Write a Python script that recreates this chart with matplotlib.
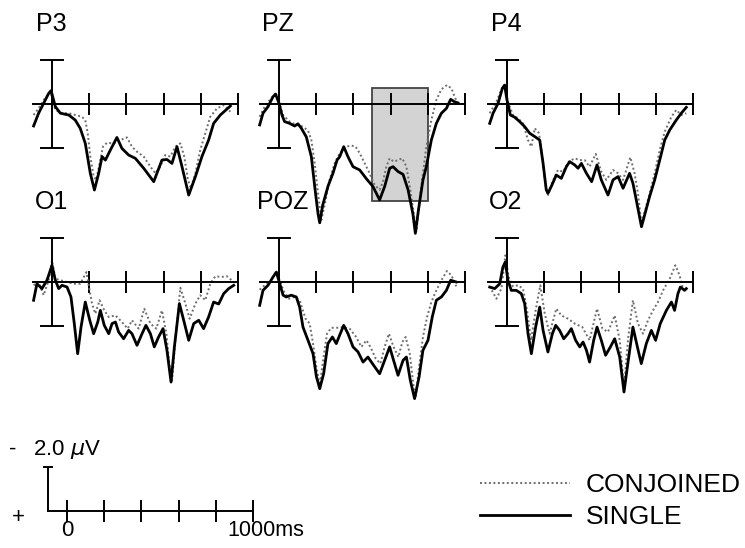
import matplotlib.pyplot as plt
from matplotlib.patches import Rectangle

plt.rcParams.update({
    "font.family": ["Liberation Sans", "DejaVu Sans"],
    "mathtext.fontset": "dejavusans",
})

# ---- data: grand-average ERPs (uV, positive plotted downward) ----
p3_single_t = [-99, -72, -45, -18, -5, 18, 45, 90, 125, 152, 179, 206, 228, 251, 269, 287, 314, 349,
               376, 412, 448, 493, 547, 591, 618, 645, 672, 699, 735, 771, 806, 842, 869, 905, 959]
p3_single_uv = [1.0, 0.42, -0.03, -0.48, -0.61, 0.12, 0.42, 0.5, 0.73, 1.11, 1.79, 3.15, 3.91, 3.15, 2.39,
                2.55, 2.09, 1.52, 2.02, 2.32, 2.47, 2.92, 3.53, 2.55, 2.52, 2.7, 1.94, 2.85, 4.14, 3.3,
                2.39, 1.64, 0.88, 0.5, 0.09]
p3_conj_t = [-99, -72, -45, -9, 18, 54, 90, 125, 161, 179, 192, 206, 224, 238, 256, 274, 296, 332, 367,
             403, 430, 457, 493, 529, 556, 582, 609, 636, 663, 690, 711, 731, 747, 771, 797, 824, 851,
             887, 923, 959]
p3_conj_uv = [0.5, 0.2, -0.18, -0.56, 0.27, 0.42, 0.42, 0.5, 0.58, 0.73, 1.33, 2.39, 3.3, 3.45, 2.7,
              1.94, 1.76, 1.79, 1.64, 1.52, 1.94, 2.17, 2.39, 2.85, 3.15, 2.85, 2.32, 2.39, 1.94, 1.79,
              2.39, 3.45, 3.83, 3.15, 2.09, 1.33, 0.58, 0.2, 0.05, 0.35]

pz_single_t = [-104, -86, -59, -32, -18, 0, 16, 30, 57, 84, 102, 120, 147, 174, 192, 210, 219, 235, 263,
               290, 312, 326, 348, 371, 398, 434, 470, 505, 541, 568, 595, 613, 640, 667, 694, 720, 733,
               750, 774, 792, 819, 846, 873, 900, 923, 944, 962]
pz_single_uv = [0.95, 0.42, 0.12, -0.33, -0.45, -0.03, 0.5, 0.8, 0.88, 1.0, 0.9, 1.1, 1.5, 2.4, 3.75,
                5.0, 5.4, 4.6, 3.75, 3.15, 2.55, 2.4, 1.94, 2.4, 2.85, 3.0, 3.4, 3.75, 4.36, 3.75, 2.92,
                2.85, 3.07, 3.2, 3.9, 5.0, 5.88, 4.8, 3.45, 2.85, 1.64, 0.88, 0.42, 0.2, -0.21, -0.1,
                -0.05]
pz_conj_t = [-104, -77, -50, -23, 0, 22, 57, 93, 129, 156, 174, 192, 210, 228, 251, 272, 299, 326, 362,
             389, 412, 434, 461, 487, 514, 541, 559, 577, 595, 616, 640, 663, 685, 706, 724, 739, 756,
             774, 792, 819, 846, 873, 903, 927, 944, 962]
pz_conj_uv = [0.58, 0.12, -0.18, -0.45, -0.1, 0.5, 0.8, 0.95, 1.03, 1.21, 1.64, 2.7, 4.06, 5.27, 4.36,
              3.45, 2.7, 2.24, 1.94, 1.89, 1.94, 2.24, 2.7, 3.15, 3.68, 3.9, 3.53, 2.85, 2.47, 2.62,
              2.55, 2.47, 2.85, 3.9, 4.97, 5.8, 4.36, 3.15, 1.94, 0.73, -0.18, -0.67, -0.86, -0.71,
              -0.33, -0.03]

p4_single_t = [-93, -75, -48, -25, -13, 0, 18, 41, 68, 95, 122, 149, 176, 194, 211, 220, 238, 265, 292,
               319, 337, 364, 382, 400, 427, 455, 484, 507, 543, 570, 597, 624, 659, 677, 695, 723, 767,
               794, 821, 848, 875, 910, 937, 964]
p4_single_uv = [0.88, 0.42, -0.03, -0.71, -0.86, -0.18, 0.5, 0.6, 0.8, 1.03, 1.33, 1.48, 1.64, 2.7, 3.9,
                4.06, 3.75, 3.23, 3.38, 2.85, 2.62, 2.77, 2.92, 2.7, 3.15, 3.53, 2.77, 3.45, 4.14, 3.45,
                3.3, 3.83, 3.15, 3.6, 4.36, 5.58, 4.2, 3.45, 2.55, 1.64, 1.18, 0.73, 0.42, 0.15]
p4_conj_t = [-93, -57, -25, -9, 5, 32, 59, 86, 113, 131, 149, 172, 190, 208, 222, 244, 274, 301, 333,
             364, 391, 418, 444, 477, 507, 534, 570, 597, 624, 663, 686, 704, 723, 767, 794, 821, 848,
             884, 910, 937, 964]
p4_conj_uv = [0.42, -0.1, -0.76, -0.86, -0.1, 0.5, 0.65, 0.88, 1.64, 1.94, 1.1, 1.33, 2.39, 3.76, 4.14,
              3.53, 3.0, 3.08, 2.62, 2.47, 2.55, 2.55, 2.85, 2.27, 3.08, 3.45, 3.0, 3.15, 3.45, 2.42,
              3.15, 4.06, 5.45, 4.06, 3.15, 2.09, 1.26, 0.58, 0.27, 0.5, 0.42]

o1_single_t = [-99, -81, -54, -27, 0, 18, 36, 54, 81, 102, 120, 138, 156, 179, 203, 224, 246, 260, 281,
               305, 323, 341, 358, 385, 412, 430, 457, 484, 505, 529, 550, 573, 597, 618, 640, 658, 685,
               708, 735, 762, 789, 815, 842, 869, 896, 923, 950, 977]
o1_single_uv = [0.83, 0.08, 0.3, -0.08, -0.76, -0.08, 0.3, 0.15, 0.23, 0.68, 1.9, 3.26, 2.05, 0.91,
                1.74, 2.35, 1.82, 1.29, 1.97, 2.35, 1.89, 1.82, 2.27, 2.58, 2.2, 2.35, 2.88, 2.35, 1.97,
                2.35, 2.95, 2.5, 2.12, 3.1, 4.55, 2.95, 0.98, 1.74, 2.65, 1.89, 1.74, 2.12, 1.59, 0.91,
                1.0, 0.53, 0.3, 0.15]
o1_conj_t = [-99, -72, -45, -18, 0, 18, 45, 81, 116, 152, 185, 199, 215, 233, 256, 281, 305, 341, 376,
             407, 430, 466, 496, 529, 561, 591, 615, 636, 645, 663, 690, 717, 740, 771, 797, 824, 851,
             878, 909, 941, 977]
o1_conj_uv = [0.15, 0.0, 0.6, -0.08, -0.98, -0.15, -0.08, 0.0, 0.08, 0.08, -0.45, 0.23, 0.98, 1.44,
              0.83, 1.29, 1.59, 1.52, 1.82, 2.12, 1.74, 2.12, 1.21, 1.89, 2.12, 1.29, 2.35, 4.17, 4.55,
              2.65, 0.26, 0.98, 1.67, 0.98, 0.6, 0.83, 0.08, -0.26, -0.23, -0.26, 0.0]

poz_single_t = [-104, -86, -59, -32, -14, 4, 22, 39, 66, 93, 111, 129, 156, 183, 201, 219, 240, 263, 287,
                308, 326, 348, 371, 398, 425, 452, 478, 509, 541, 568, 595, 616, 640, 667, 685, 706, 729,
                753, 774, 801, 824, 846, 873, 900, 923, 953]
poz_single_uv = [1.06, 0.38, 0.15, -0.23, -0.45, 0.08, 0.6, 0.68, 0.6, 0.68, 1.14, 2.05, 2.65, 3.26,
                 4.3, 4.85, 4.17, 2.8, 2.5, 2.8, 2.42, 1.97, 2.35, 2.95, 3.18, 3.64, 3.41, 3.79, 4.17,
                 3.56, 2.95, 3.56, 4.24, 3.56, 3.41, 4.47, 5.3, 4.32, 3.1, 2.65, 1.59, 0.83, 0.68, 0.38,
                 -0.08, 0.0]
poz_conj_t = [-104, -77, -47, -18, 4, 25, 54, 84, 111, 143, 165, 183, 201, 219, 237, 258, 281, 312, 344,
              380, 412, 443, 470, 491, 520, 545, 568, 591, 616, 642, 663, 681, 703, 724, 735, 753, 774,
              796, 819, 846, 873, 903, 927, 953]
poz_conj_uv = [0.35, 0.15, 0.0, -0.45, -0.08, 0.41, 0.76, 0.68, 0.83, 1.67, 1.89, 2.8, 3.86, 4.7, 3.56,
               2.35, 2.08, 2.08, 2.05, 2.12, 2.47, 2.95, 2.65, 2.95, 3.48, 3.71, 2.95, 2.35, 2.95, 3.41,
               2.73, 2.5, 3.26, 4.77, 5.23, 3.86, 2.5, 1.59, 0.91, 0.38, -0.08, -0.5, -0.3, 0.2]

o2_single_t = [-93, -66, -39, -22, -9, 5, 23, 50, 77, 95, 113, 131, 154, 176, 194, 220, 244, 262, 283,
               305, 328, 346, 369, 391, 409, 427, 444, 466, 484, 507, 530, 556, 579, 606, 629, 652, 677,
               701, 722, 749, 776, 799, 824, 857, 884, 901, 919, 932, 955, 964]
o2_single_uv = [0.23, 0.3, 0.08, -0.68, -0.91, -0.08, 0.38, 0.38, 0.53, 0.98, 2.35, 3.26, 2.05, 1.14,
                2.2, 3.18, 2.35, 1.97, 2.2, 2.58, 2.35, 2.12, 2.65, 2.95, 2.73, 3.1, 3.64, 2.65, 2.05,
                2.65, 3.33, 2.95, 2.58, 3.41, 5.0, 3.56, 2.05, 2.95, 3.71, 2.8, 2.2, 2.65, 1.89, 1.29,
                0.91, 1.29, 0.53, 0.23, 0.38, 0.3]
o2_conj_t = [-93, -57, -30, -9, 9, 32, 59, 86, 108, 129, 154, 179, 203, 229, 265, 292, 328, 364, 405,
             444, 484, 513, 543, 579, 606, 629, 652, 677, 704, 731, 758, 785, 812, 839, 875, 905, 928,
             946, 964]
o2_conj_uv = [0.2, 0.76, 0.3, -1.21, -0.23, 0.2, 0.15, 0.3, 1.29, 2.65, 1.29, 0.15, 1.44, 2.35, 1.21,
              1.52, 1.67, 1.89, 2.05, 2.65, 1.21, 2.12, 2.27, 1.52, 2.65, 4.77, 2.5, 0.83, 1.89, 2.35,
              1.74, 1.29, 0.91, 0.38, -0.15, -0.76, -0.3, 0.3, 0.41]

channels = ["P3", "PZ", "P4", "O1", "POZ", "O2"]
single_t = [p3_single_t, pz_single_t, p4_single_t, o1_single_t, poz_single_t, o2_single_t]
single_uv = [p3_single_uv, pz_single_uv, p4_single_uv, o1_single_uv, poz_single_uv, o2_single_uv]
conj_t = [p3_conj_t, pz_conj_t, p4_conj_t, o1_conj_t, poz_conj_t, o2_conj_t]
conj_uv = [p3_conj_uv, pz_conj_uv, p4_conj_uv, o1_conj_uv, poz_conj_uv, o2_conj_uv]

time_ticks = [200, 400, 600, 800, 1000]
scale_ticks = [0, 200, 400, 600, 800, 1000]
window_ms = (500, 800)      # shaded analysis window on PZ
window_uv = (-0.75, 4.4)

# ---- layout (pixels) ----
W, H = 745, 548
PX_MS = 0.186
PX_UV = 22.0
origins = [(52, 104), (279, 104), (507, 104), (52, 282), (279, 282), (507, 282)]
label_x = [-85, -90, -85, -90, -120, -100]

LW = 1.4
GREY = "#6e6e6e"


def add_panel(fig, x0, y0, t_lo, t_hi, v_top, v_bot):
    left = x0 + t_lo * PX_MS
    top = y0 + v_top * PX_UV
    w = (t_hi - t_lo) * PX_MS
    h = (v_bot - v_top) * PX_UV
    ax = fig.add_axes([left / W, 1 - (top + h) / H, w / W, h / H])
    ax.set_xlim(t_lo, t_hi)
    ax.set_ylim(v_bot, v_top)   # negative up
    ax.patch.set_visible(False)
    for s in ("top", "right"):
        ax.spines[s].set_visible(False)
    for s in ("left", "bottom"):
        ax.spines[s].set_linewidth(LW)
    ax.tick_params(labelbottom=False, labelleft=False, width=LW, direction="inout")
    return ax


def main():
    fig = plt.figure(figsize=(W / 100, H / 100), dpi=100)

    handles = None
    for i, name in enumerate(channels):
        x0, y0 = origins[i]
        ax = add_panel(fig, x0, y0, -150, 1050, -4.5, 6.5)
        ax.spines["bottom"].set_position(("data", 0))
        ax.spines["bottom"].set_bounds(-100, 1000)
        ax.spines["left"].set_position(("data", 0))
        ax.spines["left"].set_bounds(-2, 2)
        ax.set_xticks(time_ticks)
        ax.set_yticks([-2, 2])
        ax.tick_params(axis="x", length=16)
        ax.tick_params(axis="y", length=17.5)

        if name == "PZ":
            ax.add_patch(Rectangle((window_ms[0], window_uv[0]),
                                   window_ms[1] - window_ms[0],
                                   window_uv[1] - window_uv[0],
                                   facecolor="#d3d3d3", edgecolor="#444444",
                                   lw=1.3, zorder=0.5))

        lc, = ax.plot(conj_t[i], conj_uv[i], color=GREY, lw=1.4,
                      ls=(0, (1, 1.3)), label="CONJOINED", clip_on=False)
        ls, = ax.plot(single_t[i], single_uv[i], color="black", lw=2.0,
                      label="SINGLE", clip_on=False)
        handles = [lc, ls]

        ax.text(label_x[i], -3.65, name, fontsize=18, ha="left", va="center")

    # calibration bar
    sx = add_panel(fig, 67, 511, -350, 1100, -3.5, 1.5)
    sx.spines["bottom"].set_position(("data", 0))
    sx.spines["bottom"].set_bounds(-100, 1000)
    sx.spines["left"].set_position(("data", -100))
    sx.spines["left"].set_bounds(-2, 0)
    sx.set_xticks(scale_ticks)
    sx.set_yticks([-2])
    sx.tick_params(axis="x", length=16)
    sx.tick_params(axis="y", length=7.5)
    sx.text(-290, -2.8, "-", fontsize=16, ha="center", va="center")
    sx.text(-183, -2.8, r"2.0 $\mu$V", fontsize=16, ha="left", va="center")
    sx.text(-263, 0.3, "+", fontsize=16, ha="center", va="center")
    sx.text(0, 0.9, "0", fontsize=16, ha="center", va="center")
    sx.text(860, 0.9, "1000ms", fontsize=15.5, ha="left", va="center")

    fig.legend(handles=handles, loc="upper left",
               bbox_to_anchor=(480 / W, 1 - 473 / H), frameon=False,
               fontsize=19, handlelength=3.4, handletextpad=0.62,
               labelspacing=0.3, borderpad=0, borderaxespad=0)

    fig.savefig("out.png", dpi=100)


if __name__ == "__main__":
    main()
